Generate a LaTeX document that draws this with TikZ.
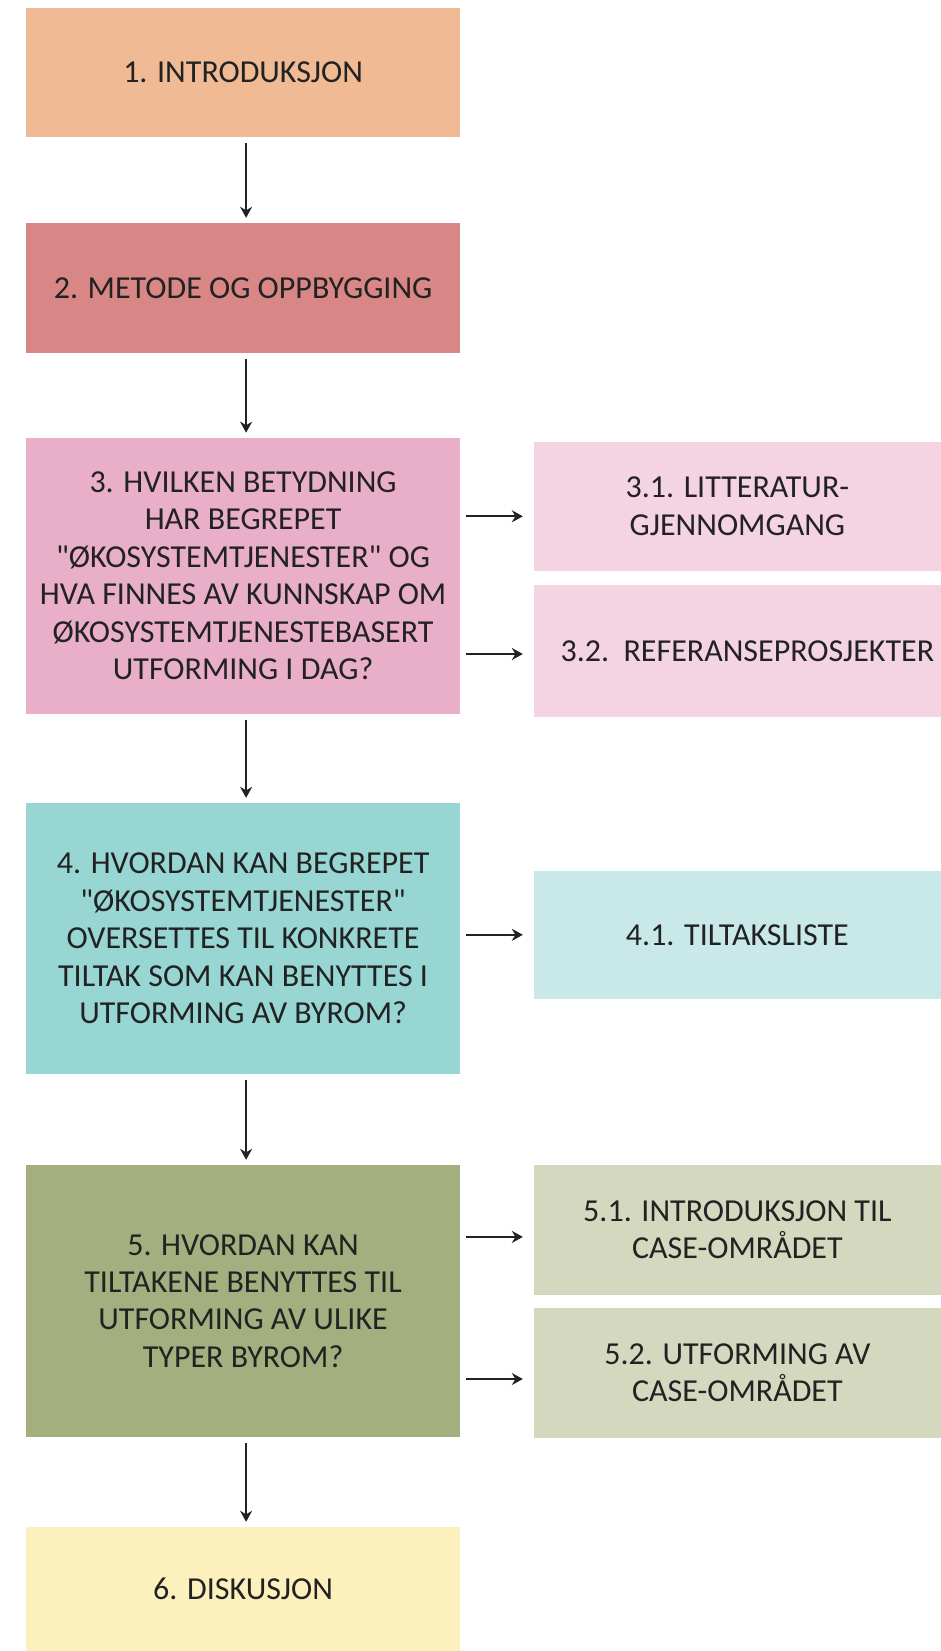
\documentclass[tikz,border=0pt]{standalone}
\usepackage{fontspec}
\setmainfont{Carlito}[Ligatures=TeXOff]
\usetikzlibrary{arrows.meta, positioning, calc}
\definecolor{peach}{HTML}{EFBA94}
\definecolor{rose}{HTML}{D98686}
\definecolor{pink}{HTML}{E9AFC8}
\definecolor{pinklt}{HTML}{F4D4E3}
\definecolor{teal}{HTML}{97D6D3}
\definecolor{teallt}{HTML}{C8E9E8}
\definecolor{olive}{HTML}{A4AF7F}
\definecolor{olivelt}{HTML}{D3D8BE}
\definecolor{butter}{HTML}{FCF1BD}
\definecolor{txt}{HTML}{222222}

\begin{document}
\begin{tikzpicture}[x=1pt, y=-1pt, >={Stealth[length=11pt, width=12pt]},
  box/.style={inner sep=0pt, align=center, text=txt, font=\fontsize{32}{37.4}\selectfont, minimum width=434pt},
  sub/.style={box, minimum width=407.3pt},
  flow/.style={->, txt, line width=2pt, shorten <=6pt, shorten >=5pt},
  side/.style={flow, shorten >=10.7pt}]

\useasboundingbox (0,0) rectangle (941,1651);

% Main chain (left column)
\node[box, fill=peach, minimum height=128.4pt] (intro) at (243.1,72.6) {1. INTRODUKSJON};
\node[box, fill=rose, minimum height=129.6pt] (metode) at (243.1,287.8) {2. METODE OG OPPBYGGING};
\node[box, fill=pink, minimum height=275.8pt] (betydning) at (243.1,575.8)
  {3. HVILKEN BETYDNING\\HAR BEGREPET\\"ØKOSYSTEMTJENESTER" OG\\HVA FINNES AV KUNNSKAP OM\\ØKOSYSTEMTJENESTEBASERT\\UTFORMING I DAG?};
\node[box, fill=teal, minimum height=270.7pt] (oversette) at (243.1,938.4)
  {4. HVORDAN KAN BEGREPET\\"ØKOSYSTEMTJENESTER"\\OVERSETTES TIL KONKRETE\\TILTAK SOM KAN BENYTTES I\\UTFORMING AV BYROM?};
\node[box, fill=olive, minimum height=272pt] (tiltak) at (243.1,1301)
  {5. HVORDAN KAN\\TILTAKENE BENYTTES TIL\\UTFORMING AV ULIKE\\TYPER BYROM?};
\node[box, fill=butter, minimum height=124pt] (diskusjon) at (243.1,1589) {6. DISKUSJON};

% Sub chapters (right column)
\node[sub, fill=pinklt, minimum height=128.5pt] (litt) at (737.4,506.3) {3.1. LITTERATUR-\\GJENNOMGANG};
\node[sub, fill=pinklt, minimum height=132pt] (ref) at (737.4,651) {\hspace*{20pt}3.2.\ \ REFERANSEPROSJEKTER};
\node[sub, fill=teallt, minimum height=128.5pt] (liste) at (737.4,934.8) {4.1. TILTAKSLISTE};
\node[sub, fill=olivelt, minimum height=129.7pt] (case) at (737.4,1229.9) {5.1. INTRODUKSJON TIL\\CASE-OMRÅDET};
\node[sub, fill=olivelt, minimum height=130pt] (utform) at (737.4,1373) {5.2. UTFORMING AV\\CASE-OMRÅDET};

% Arrows down
\draw[flow] ($(intro.south)+(3,0)$) -- ($(metode.north)+(3,0)$);
\draw[flow] ($(metode.south)+(3,0)$) -- ($(betydning.north)+(3,0)$);
\draw[flow] ($(betydning.south)+(3,0)$) -- ($(oversette.north)+(3,0)$);
\draw[flow] ($(oversette.south)+(3,0)$) -- ($(tiltak.north)+(3,0)$);
\draw[flow] ($(tiltak.south)+(3,0)$) -- ($(diskusjon.north)+(3,0)$);

% Arrows right
\draw[side] ($(betydning.east |- litt.west)+(0,10)$) -- ($(litt.west)+(0,10)$);
\draw[side] ($(betydning.east |- ref.west)+(0,3)$) -- ($(ref.west)+(0,3)$);
\draw[side] (betydning.east |- liste.west) -- (liste.west);
\draw[side] ($(tiltak.east |- case.west)+(0,7)$) -- ($(case.west)+(0,7)$);
\draw[side] ($(tiltak.east |- utform.west)+(0,6)$) -- ($(utform.west)+(0,6)$);

\end{tikzpicture}
\end{document}
